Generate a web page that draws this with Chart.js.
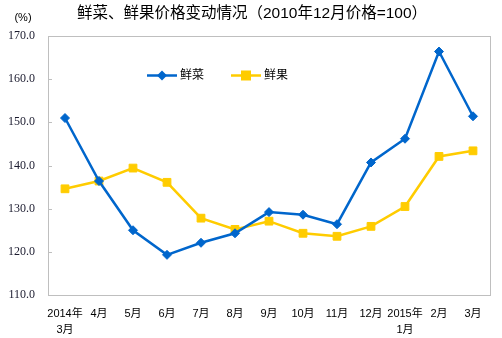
<!DOCTYPE html>
<html>
<head>
<meta charset="utf-8">
<script src="https://cdn.jsdelivr.net/npm/chart.js@4.4.1/dist/chart.umd.min.js"></script>
<style>
  html, body { margin: 0; padding: 0; background: #fff; }
  #wrap { width: 502px; height: 338px; position: relative; }
</style>
</head>
<body>
<div id="wrap"><canvas id="priceChart"></canvas></div>
<script>
// 月份标签
const months = [['2014年', '3月'], '4月', '5月', '6月', '7月', '8月', '9月', '10月', '11月', '12月', ['2015年', '1月'], '2月', '3月'];
// 鲜菜价格指数
const vegValues = [151.0, 136.4, 125.0, 119.3, 122.1, 124.3, 129.2, 128.6, 126.4, 140.7, 146.2, 166.4, 151.4];
// 鲜果价格指数
const fruitValues = [134.6, 136.4, 139.4, 136.1, 127.8, 125.2, 127.1, 124.3, 123.6, 125.9, 130.5, 142.1, 143.4];
const yTicks = [110, 120, 130, 140, 150, 160, 170];

const blue = '#0066CC';
const yellow = '#FFCC00';
const cjk = '"Liberation Sans", "Noto Sans CJK SC", sans-serif';

// 标题、单位、边框和图例
const decorations = {
    id: 'decorations',
    afterDraw(chart) {
        const ctx = chart.ctx;
        const area = chart.chartArea;
        ctx.save();

        ctx.fillStyle = '#000';
        ctx.textBaseline = 'middle';
        ctx.textAlign = 'center';
        ctx.font = '15.5px ' + cjk;
        ctx.fillText('鲜菜、鲜果价格变动情况（2010年12月价格=100）', 252, 14);

        ctx.font = '11px ' + cjk;
        ctx.fillText('(%)', 23, 18);

        // 边框
        ctx.strokeStyle = '#BFBFBF';
        ctx.lineWidth = 1;
        ctx.strokeRect(Math.round(area.left) + 0.5, Math.round(area.top) + 0.5,
            Math.round(area.right - area.left), Math.round(area.bottom - area.top));

        // y轴刻度线
        const yScale = chart.scales.y;
        yTicks.forEach(v => {
            const y = Math.round(yScale.getPixelForValue(v)) + 0.5;
            ctx.beginPath();
            ctx.moveTo(area.left, y);
            ctx.lineTo(area.left + 4, y);
            ctx.stroke();
        });

        // 图例
        const items = [
            { x: 147, color: blue, shape: 'diamond', label: chart.data.datasets[0].label },
            { x: 231, color: yellow, shape: 'square', label: chart.data.datasets[1].label }
        ];
        const ly = 75.5;
        items.forEach(it => {
            ctx.strokeStyle = it.color;
            ctx.lineWidth = 2.5;
            ctx.beginPath();
            ctx.moveTo(it.x, ly);
            ctx.lineTo(it.x + 30, ly);
            ctx.stroke();
            ctx.fillStyle = it.color;
            const cx = it.x + 15;
            if (it.shape === 'diamond') {
                ctx.beginPath();
                ctx.moveTo(cx, ly - 5);
                ctx.lineTo(cx + 5, ly);
                ctx.lineTo(cx, ly + 5);
                ctx.lineTo(cx - 5, ly);
                ctx.closePath();
                ctx.fill();
            } else {
                ctx.fillRect(cx - 5, ly - 5, 10, 10);
            }
            ctx.fillStyle = '#000';
            ctx.textAlign = 'left';
            ctx.font = '12px ' + cjk;
            ctx.fillText(it.label, it.x + 33, ly);
        });
        ctx.restore();
    }
};

new Chart(document.getElementById('priceChart').getContext('2d'), {
    type: 'line',
    data: {
        labels: months,
        datasets: [
            {
                label: '鲜菜', data: vegValues, borderColor: blue, backgroundColor: blue,
                borderWidth: 2.5, pointStyle: 'rectRot', pointRadius: 4.5, pointHoverRadius: 4.5,
                pointBorderWidth: 1, tension: 0
            },
            {
                label: '鲜果', data: fruitValues, borderColor: yellow, backgroundColor: yellow,
                borderWidth: 2.5, pointStyle: 'rect', pointRadius: 5.5, pointHoverRadius: 5.5,
                pointBorderWidth: 1, tension: 0
            }
        ]
    },
    options: {
        responsive: true, maintainAspectRatio: false, animation: false,
        layout: { padding: { top: 36, right: 12, left: 0, bottom: 0 } },
        plugins: { legend: { display: false }, tooltip: { enabled: false } },
        scales: {
            x: {
                offset: true,
                grid: { display: false },
                border: { display: false },
                ticks: {
                    color: '#000', padding: 3, maxRotation: 0, autoSkip: false,
                    font: { family: cjk, size: 11, lineHeight: 1.45 }
                },
                afterFit: s => { s.height = 43; }
            },
            y: {
                min: 110, max: 170,
                grid: { display: false },
                border: { display: false },
                ticks: {
                    stepSize: 10, color: '#1a1a2e', padding: 5,
                    font: { family: '"Liberation Serif", serif', size: 12 },
                    callback: v => Number(v).toFixed(1)
                },
                afterFit: s => { s.width = 48; }
            }
        }
    },
    plugins: [decorations]
});
</script>
</body>
</html>
